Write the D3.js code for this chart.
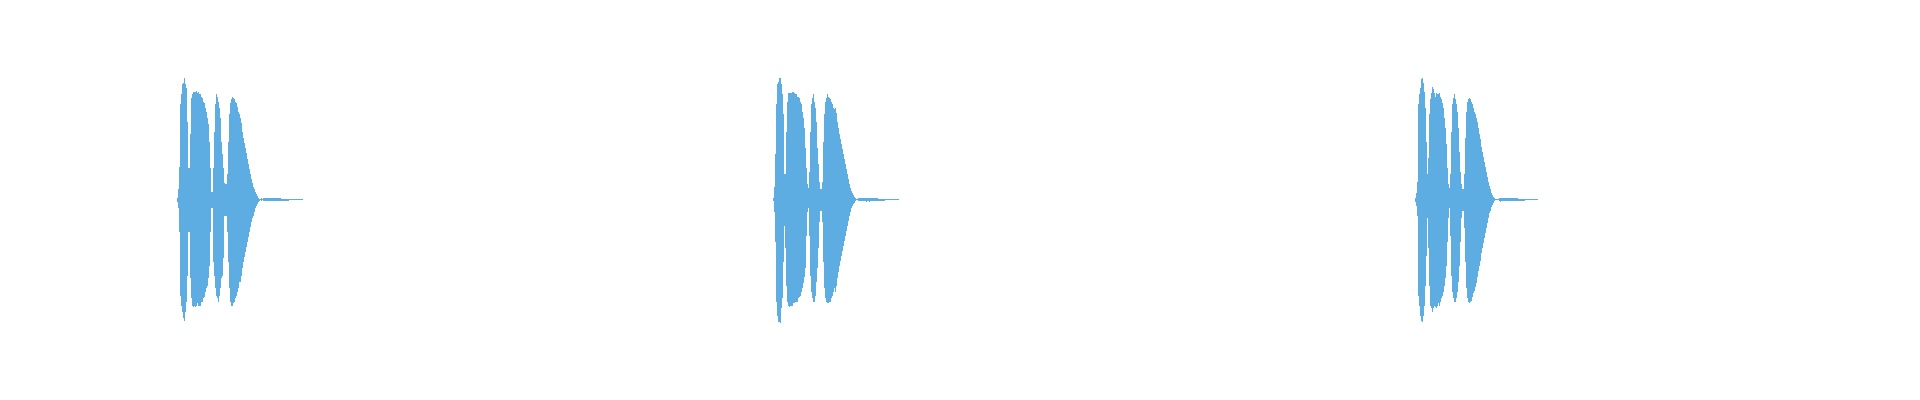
<!DOCTYPE html>
<html>
<head>
<meta charset="utf-8">
<script src="https://cdn.jsdelivr.net/npm/d3@7"></script>
<style>
  html, body { margin: 0; padding: 0; background: #ffffff; }
  svg { display: block; }
</style>
</head>
<body>
<svg id="chart" width="1920" height="400"></svg>
<script>
// Waveform 1: per-column peak (max) and trough (min) amplitudes
const wave1Max = [
  0.01,0.08,0.26,0.76,0.84,0.92,0.93,0.97,0.92,0.89,
  0.62,0.25,0.25,0.52,0.81,0.84,0.86,0.86,0.86,0.87,
  0.85,0.86,0.84,0.84,0.82,0.81,0.78,0.77,0.73,0.70,
  0.65,0.60,0.46,0.25,0.06,0.06,0.25,0.54,0.76,0.84,
  0.82,0.78,0.73,0.65,0.46,0.36,0.25,0.13,0.12,0.12,
  0.20,0.46,0.68,0.77,0.80,0.82,0.81,0.80,0.78,0.77,
  0.74,0.70,0.68,0.65,0.61,0.54,0.49,0.45,0.41,0.37,
  0.32,0.28,0.24,0.20,0.16,0.13,0.10,0.08,0.06,0.04,
  0.03,0.013,0.003,0.003,0.008,0.003,0.011,0.011,0.011,0.011,
  0.008,0.008,0.008,0.008,0.008,0.008,0.008,0.008,0.008,0.008,0.008,0.008,0.008,0.008,
  0.000,0.000,0.000,0.000,0.000,0.000,0.000,0.000,
  0.003,0.003,0.003,0.003,0.003,0.003,0.003,0.003,0.003,0.003,0.003,0.003,0.003,0.003
];
const wave1Min = [
  -0.02,-0.07,-0.26,-0.77,-0.85,-0.90,-0.95,-0.97,-0.90,-0.82,
  -0.61,-0.26,-0.26,-0.63,-0.79,-0.85,-0.86,-0.85,-0.86,-0.85,
  -0.83,-0.85,-0.85,-0.85,-0.82,-0.82,-0.79,-0.78,-0.74,-0.71,
  -0.69,-0.63,-0.53,-0.26,-0.07,-0.07,-0.50,-0.61,-0.71,-0.77,
  -0.79,-0.82,-0.77,-0.71,-0.63,-0.61,-0.47,-0.13,-0.13,-0.13,
  -0.26,-0.50,-0.71,-0.82,-0.85,-0.85,-0.83,-0.82,-0.79,-0.77,
  -0.74,-0.71,-0.66,-0.66,-0.61,-0.55,-0.50,-0.46,-0.42,-0.38,
  -0.34,-0.30,-0.26,-0.22,-0.18,-0.15,-0.13,-0.10,-0.07,-0.05,
  -0.04,-0.024,-0.013,-0.008,-0.013,-0.005,-0.016,-0.016,-0.016,-0.016,
  -0.013,-0.013,-0.013,-0.013,-0.013,-0.013,-0.013,-0.013,-0.013,-0.013,-0.013,-0.013,-0.013,-0.013,
  -0.013,-0.013,-0.013,-0.013,-0.013,-0.013,-0.013,-0.013,
  -0.005,-0.005,-0.005,-0.005,-0.005,-0.005,-0.005,-0.005,-0.005,-0.005,-0.005,-0.005,-0.005,-0.005
];

// Waveform 2
const wave2Max = [
  0.01,0.10,0.36,0.76,0.92,0.94,0.97,0.97,0.92,0.84,
  0.68,0.20,0.20,0.54,0.78,0.85,0.85,0.85,0.85,0.86,
  0.86,0.85,0.84,0.84,0.82,0.82,0.81,0.78,0.76,0.70,
  0.65,0.57,0.41,0.25,0.12,0.09,0.22,0.54,0.76,0.81,
  0.84,0.78,0.73,0.62,0.41,0.28,0.14,0.08,0.08,0.14,
  0.46,0.68,0.78,0.81,0.84,0.82,0.81,0.80,0.78,0.76,
  0.73,0.72,0.73,0.69,0.62,0.57,0.52,0.48,0.44,0.40,
  0.36,0.32,0.28,0.24,0.20,0.16,0.12,0.09,0.07,0.05,
  0.035,0.021,0.011,0.005,0.005,
  0.011,0.011,0.011,0.011,0.011,0.011,0.011,0.011,0.011,0.011,
  0.011,0.011,0.011,0.011,0.011,0.011,0.011,0.011,0.011,0.011,
  0.003,0.003,0.003,0.003,0.003,0.003,0.003,
  0.003,0.003,0.003,0.003,0.003,0.003,0.003,0.003,0.003,0.003,0.003,0.003,0.003,0.003
];
const wave2Min = [
  -0.01,-0.10,-0.34,-0.82,-0.93,-0.98,-0.98,-0.99,-0.87,-0.79,
  -0.50,-0.21,-0.39,-0.69,-0.82,-0.85,-0.86,-0.85,-0.85,-0.85,
  -0.83,-0.83,-0.82,-0.82,-0.82,-0.79,-0.78,-0.77,-0.74,-0.71,
  -0.67,-0.62,-0.55,-0.29,-0.10,-0.07,-0.29,-0.61,-0.74,-0.79,
  -0.82,-0.82,-0.77,-0.66,-0.55,-0.39,-0.18,-0.09,-0.09,-0.18,
  -0.50,-0.71,-0.79,-0.82,-0.83,-0.83,-0.82,-0.82,-0.79,-0.77,
  -0.74,-0.71,-0.74,-0.69,-0.63,-0.58,-0.53,-0.49,-0.45,-0.41,
  -0.37,-0.33,-0.29,-0.25,-0.21,-0.17,-0.13,-0.10,-0.07,-0.05,
  -0.04,-0.027,-0.013,-0.008,-0.008,
  -0.011,-0.011,-0.011,-0.011,-0.011,-0.011,-0.011,-0.011,-0.021,-0.011,
  -0.011,-0.021,-0.011,-0.011,-0.011,-0.011,-0.011,-0.011,-0.011,-0.011,
  -0.011,-0.011,-0.011,-0.011,-0.011,-0.011,-0.011,
  -0.005,-0.005,-0.005,-0.005,-0.005,-0.005,-0.005,-0.005,-0.005,-0.005,-0.005,-0.005,-0.005,-0.005
];

// Waveform 3
const wave3Max = [
  0.013,0.05,0.14,0.76,0.84,0.89,0.96,0.97,0.93,0.86,
  0.73,0.46,0.20,0.33,0.68,0.80,0.85,0.90,0.88,0.85,
  0.82,0.85,0.84,0.84,0.85,0.82,0.80,0.77,0.73,0.65,
  0.57,0.44,0.25,0.12,0.09,0.20,0.54,0.76,0.81,0.84,
  0.80,0.76,0.70,0.57,0.38,0.22,0.12,0.08,0.08,0.20,
  0.49,0.70,0.78,0.80,0.81,0.80,0.78,0.76,0.73,0.70,
  0.68,0.65,0.62,0.57,0.52,0.48,0.42,0.38,0.34,0.30,
  0.26,0.22,0.18,0.14,0.11,0.08,0.05,0.035,0.021,0.011,
  0.005,0.005,0.005,0.005,0.008,0.008,0.008,0.008,
  0.011,0.011,0.011,0.011,0.011,0.011,0.011,0.011,0.011,0.011,0.011,0.011,0.011,0.011,0.011,
  0.003,0.003,0.003,0.003,0.003,0.003,0.003,
  0.003,0.003,0.003,0.003,0.003,0.003,0.003,0.003,0.003,0.003,0.003,0.003,0.003
];
const wave3Min = [
  -0.02,-0.05,-0.13,-0.77,-0.85,-0.93,-0.97,-0.98,-0.93,-0.85,
  -0.69,-0.45,-0.15,-0.39,-0.69,-0.85,-0.87,-0.90,-0.87,-0.85,
  -0.86,-0.87,-0.85,-0.83,-0.85,-0.82,-0.79,-0.77,-0.74,-0.69,
  -0.63,-0.53,-0.34,-0.15,-0.07,-0.29,-0.61,-0.74,-0.79,-0.82,
  -0.82,-0.79,-0.74,-0.66,-0.53,-0.34,-0.15,-0.09,-0.09,-0.23,
  -0.50,-0.71,-0.79,-0.82,-0.83,-0.82,-0.81,-0.78,-0.75,-0.73,
  -0.70,-0.67,-0.62,-0.57,-0.53,-0.49,-0.43,-0.39,-0.35,-0.31,
  -0.27,-0.23,-0.19,-0.15,-0.11,-0.09,-0.06,-0.045,-0.029,-0.016,
  -0.008,-0.008,-0.008,-0.008,-0.013,-0.021,-0.013,-0.013,
  -0.011,-0.011,-0.011,-0.011,-0.011,-0.011,-0.011,-0.011,-0.011,-0.011,-0.011,-0.011,-0.011,-0.011,-0.011,
  -0.011,-0.011,-0.011,-0.011,-0.011,-0.011,-0.011,
  -0.005,-0.005,-0.005,-0.005,-0.005,-0.005,-0.005,-0.005,-0.005,-0.005,-0.005,-0.005,-0.005
];

const waves = [
  { max: wave1Max, min: wave1Min, left: 177 },
  { max: wave2Max, min: wave2Min, left: 773 },
  { max: wave3Max, min: wave3Min, left: 1415 }
];

const color = "#5dade2";
const centerY = 199.33;
const halfHeight = 125;

const svg = d3.select("#chart");
const y = d3.scaleLinear().domain([-1, 1]).range([centerY + halfHeight, centerY - halfHeight]);

waves.forEach(w => {
  const n = w.max.length;
  const x = d3.scaleLinear().domain([0, n]).range([w.left, w.left + n]);
  const cols = d3.range(n).map(i => ({ i, hi: w.max[i], lo: w.min[i] }));
  svg.append("g")
    .selectAll("rect")
    .data(cols)
    .join("rect")
    .attr("x", d => x(d.i))
    .attr("width", d => x(d.i + 1) - x(d.i))
    .attr("y", d => y(d.hi))
    .attr("height", d => Math.max(1, y(d.lo) - y(d.hi)))
    .attr("fill", color)
    .attr("shape-rendering", "crispEdges");
});
</script>
</body>
</html>
